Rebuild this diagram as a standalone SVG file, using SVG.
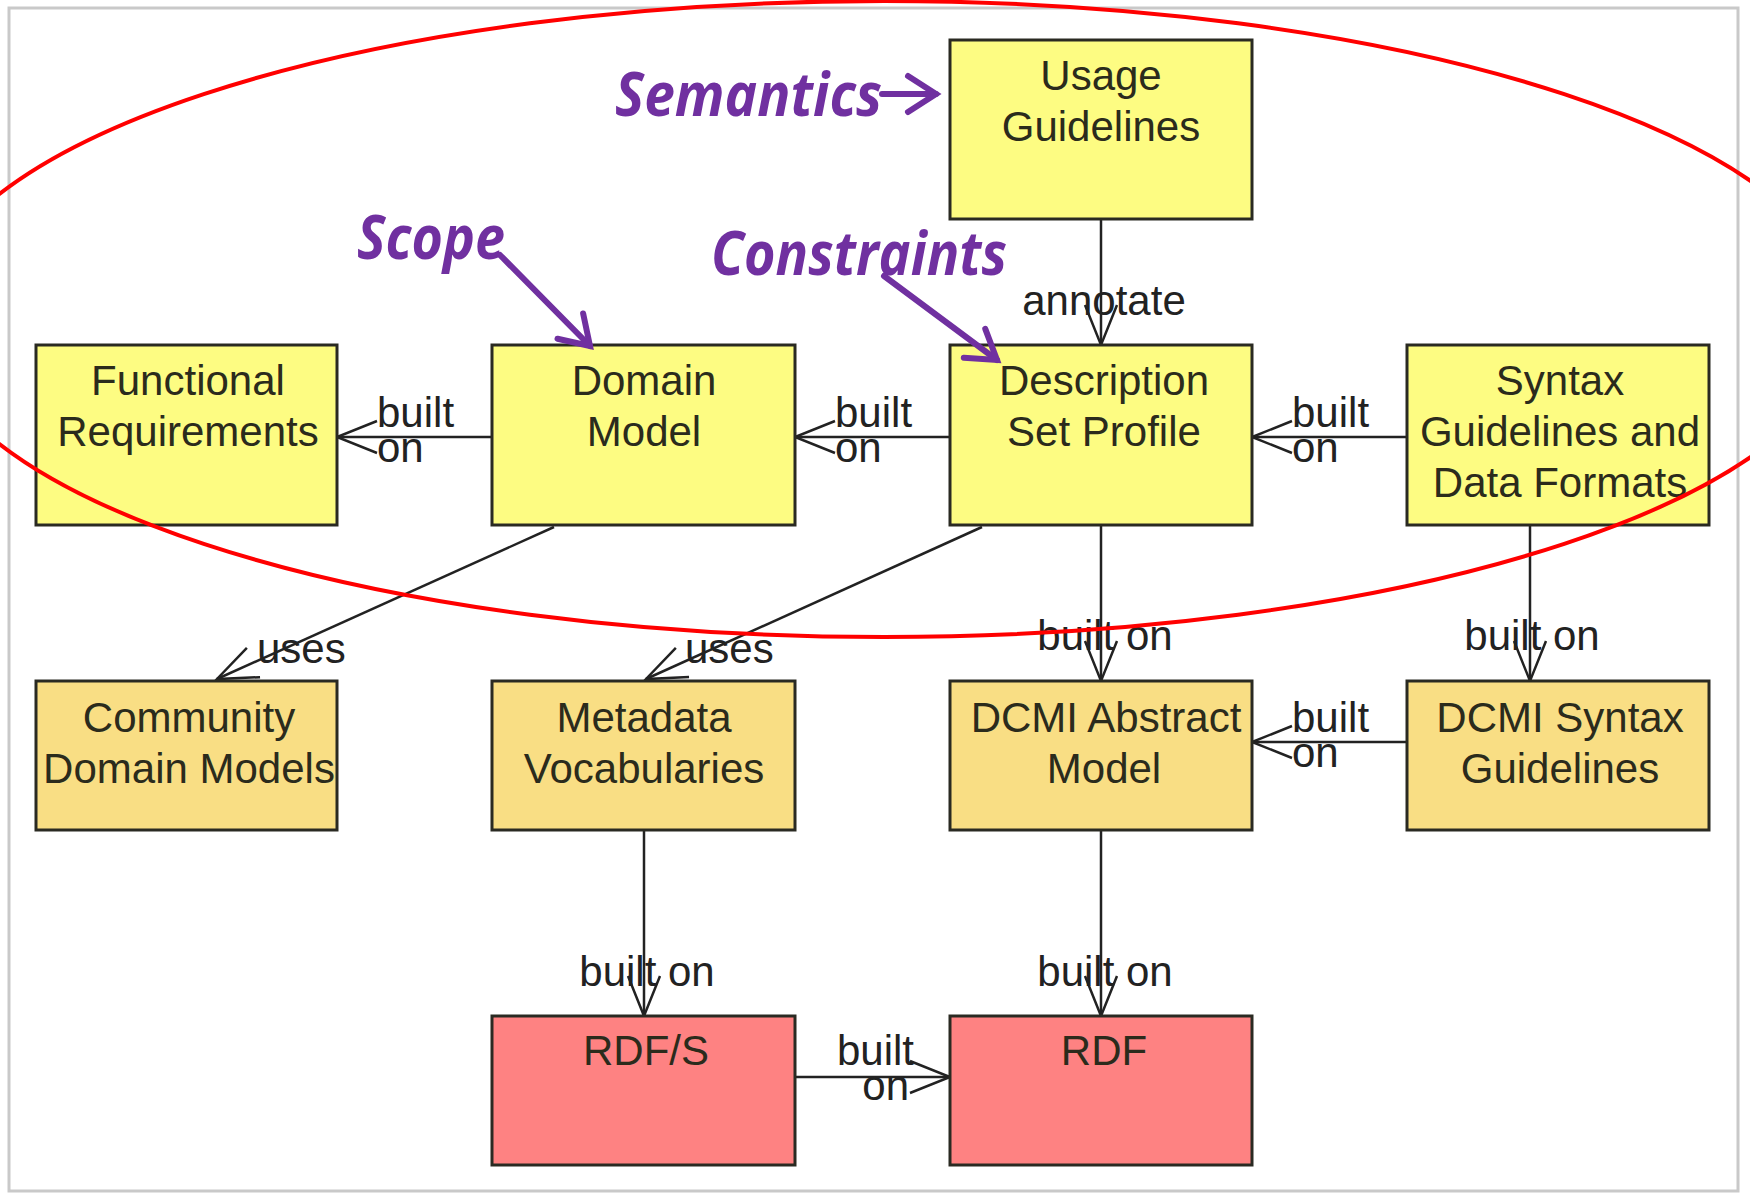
<svg xmlns="http://www.w3.org/2000/svg" width="1750" height="1193" viewBox="0 0 1750 1193">
<defs>
<style>
.node rect{stroke:#2a2a22;stroke-width:3}
.y1 rect{fill:#fdfc82}
.y2 rect{fill:#f9de84}
.r3 rect{fill:#fe8282}
.nt{font-family:"Liberation Sans",Arial,sans-serif;font-size:42px;fill:#2b2b1c;text-anchor:middle}
.conn line{stroke:#222;stroke-width:2.5;fill:none}
.lbl{font-family:"Liberation Sans",Arial,sans-serif;font-size:42px;fill:#222}
.ann{font-family:"Open Sans","Liberation Sans",sans-serif;font-weight:bold;font-style:italic;font-size:60px;fill:#7030a0}
.annl{stroke:#7030a0;stroke-width:6;fill:none;stroke-linecap:round}
</style>
<marker id="ah" viewBox="0 0 40 32" refX="40" refY="16" markerWidth="40" markerHeight="32" markerUnits="userSpaceOnUse" orient="auto" overflow="visible">
<path d="M0,0 L40,16 L0,32" fill="none" stroke="#222" stroke-width="2.5"/>
</marker>
<marker id="ph" viewBox="0 0 32 40" refX="30" refY="20" markerWidth="32" markerHeight="40" markerUnits="userSpaceOnUse" orient="auto" overflow="visible">
<path d="M2,2 L30,20 L2,38" fill="none" stroke="#7030a0" stroke-width="6" stroke-linecap="round" stroke-linejoin="miter"/>
</marker>
</defs>
<rect x="0" y="0" width="1750" height="1193" fill="#fff"/>
<rect x="9" y="8" width="1729" height="1183" fill="#fff" stroke="#c9c9c9" stroke-width="3"/>

<g id="connectors" class="conn">
<line x1="1101" y1="219" x2="1101" y2="345" marker-end="url(#ah)"/>
<line x1="492" y1="437" x2="337" y2="437" marker-end="url(#ah)"/>
<line x1="950" y1="437" x2="795" y2="437" marker-end="url(#ah)"/>
<line x1="1407" y1="437" x2="1252" y2="437" marker-end="url(#ah)"/>
<line x1="1407" y1="742" x2="1252" y2="742" marker-end="url(#ah)"/>
<line x1="795" y1="1077" x2="950" y2="1077" marker-end="url(#ah)"/>
<line x1="1101" y1="525" x2="1101" y2="681" marker-end="url(#ah)"/>
<line x1="1530" y1="525" x2="1530" y2="681" marker-end="url(#ah)"/>
<line x1="644" y1="830" x2="644" y2="1016" marker-end="url(#ah)"/>
<line x1="1101" y1="830" x2="1101" y2="1016" marker-end="url(#ah)"/>
<line x1="554" y1="527" x2="217" y2="679" marker-end="url(#ah)"/>
<line x1="982" y1="527" x2="646" y2="679" marker-end="url(#ah)"/>
<text class="lbl" x="1104" y="315" text-anchor="middle">annotate</text>
<text class="lbl" x="377" y="427">built</text><text class="lbl" x="377" y="462">on</text>
<text class="lbl" x="835" y="427">built</text><text class="lbl" x="835" y="462">on</text>
<text class="lbl" x="1292" y="427">built</text><text class="lbl" x="1292" y="462">on</text>
<text class="lbl" x="1292" y="732">built</text><text class="lbl" x="1292" y="767">on</text>
<text class="lbl" x="914" y="1065" text-anchor="end">built</text><text class="lbl" x="909" y="1100" text-anchor="end">on</text>
<text class="lbl" x="1105" y="650" text-anchor="middle">built on</text>
<text class="lbl" x="1532" y="650" text-anchor="middle">built on</text>
<text class="lbl" x="647" y="986" text-anchor="middle">built on</text>
<text class="lbl" x="1105" y="986" text-anchor="middle">built on</text>
<text class="lbl" x="257" y="663">uses</text>
<text class="lbl" x="685" y="663">uses</text>
</g>

<g id="n-usage" class="node y1"><rect x="950" y="40" width="302" height="179"/><text class="nt" x="1101" y="90">Usage</text><text class="nt" x="1101" y="141">Guidelines</text></g>
<g id="n-functional" class="node y1"><rect x="36" y="345" width="301" height="180"/><text class="nt" x="188" y="395">Functional</text><text class="nt" x="188" y="446">Requirements</text></g>
<g id="n-domain" class="node y1"><rect x="492" y="345" width="303" height="180"/><text class="nt" x="644" y="395">Domain</text><text class="nt" x="644" y="446">Model</text></g>
<g id="n-dsp" class="node y1"><rect x="950" y="345" width="302" height="180"/><text class="nt" x="1104" y="395">Description</text><text class="nt" x="1104" y="446">Set Profile</text></g>
<g id="n-syntax" class="node y1"><rect x="1407" y="345" width="302" height="180"/><text class="nt" x="1560" y="395">Syntax</text><text class="nt" x="1560" y="446">Guidelines and</text><text class="nt" x="1560" y="497">Data Formats</text></g>
<g id="n-community" class="node y2"><rect x="36" y="681" width="301" height="149"/><text class="nt" x="189" y="732">Community</text><text class="nt" x="189" y="783">Domain Models</text></g>
<g id="n-metadata" class="node y2"><rect x="492" y="681" width="303" height="149"/><text class="nt" x="644" y="732">Metadata</text><text class="nt" x="644" y="783">Vocabularies</text></g>
<g id="n-dcmiam" class="node y2"><rect x="950" y="681" width="302" height="149"/><text class="nt" x="1106" y="732">DCMI Abstract</text><text class="nt" x="1104" y="783">Model</text></g>
<g id="n-dcmisg" class="node y2"><rect x="1407" y="681" width="302" height="149"/><text class="nt" x="1560" y="732">DCMI Syntax</text><text class="nt" x="1560" y="783">Guidelines</text></g>
<g id="n-rdfs" class="node r3"><rect x="492" y="1016" width="303" height="149"/><text class="nt" x="646" y="1065">RDF/S</text></g>
<g id="n-rdf" class="node r3"><rect x="950" y="1016" width="302" height="149"/><text class="nt" x="1104" y="1065">RDF</text></g>

<g id="annotations">
<text class="ann" x="615" y="116" textLength="267" lengthAdjust="spacingAndGlyphs">Semantics</text>
<line class="annl" x1="882" y1="94" x2="936" y2="94" marker-end="url(#ph)"/>
<text class="ann" x="357" y="259" textLength="148" lengthAdjust="spacingAndGlyphs">Scope</text>
<line class="annl" x1="500" y1="255" x2="590" y2="346" marker-end="url(#ph)"/>
<text class="ann" x="711" y="275" textLength="296" lengthAdjust="spacingAndGlyphs">Constraints</text>
<line class="annl" x1="884" y1="276" x2="997" y2="360" marker-end="url(#ph)"/>
</g>

<ellipse id="highlight" cx="884" cy="319" rx="962" ry="318" fill="none" stroke="#ff0000" stroke-width="4"/>
</svg>
